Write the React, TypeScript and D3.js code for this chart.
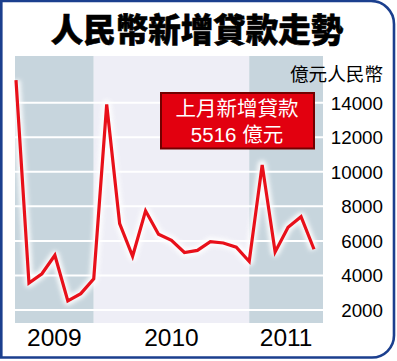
import React, { useRef, useEffect } from 'react';
import * as d3 from 'd3';

// months from 2009-06 to 2011-05, new loans in 億元
const months = [
  '2009-06', '2009-07', '2009-08', '2009-09', '2009-10', '2009-11', '2009-12',
  '2010-01', '2010-02', '2010-03', '2010-04', '2010-05', '2010-06', '2010-07',
  '2010-08', '2010-09', '2010-10', '2010-11', '2010-12',
  '2011-01', '2011-02', '2011-03', '2011-04', '2011-05',
];
const loans = [
  15300, 3560, 4100, 5170, 2530, 2950, 3800,
  13900, 7000, 5110, 7740, 6390, 6030, 5330,
  5450, 5960, 5880, 5640, 4810,
  10400, 5360, 6790, 7400, 5516,
];
const yTicks = [2000, 4000, 6000, 8000, 10000, 12000, 14000];
// year bands: label, first month index, last month index
const years = ['2009', '2010', '2011'];
const yearStart = [0, 6, 18];
const yearEnd = [6, 18, 23];

const W = 397;
const H = 361;

const App = () => {
  const ref = useRef<SVGSVGElement>(null);

  useEffect(() => {
    const svg = d3.select(ref.current);
    svg.selectAll('*').remove();

    const left = 15, right = 323, top = 56, bottom = 323;

    const x = d3.scaleLinear().domain([0, months.length - 1]).range([16, 314]);
    const y = d3.scaleLinear().domain([1250, 16700]).range([bottom, top]);

    // white card with blue frame
    svg.append('path')
      .attr('d', `M1.3,1 H371 A23,23 0 0 1 394,24 V335.5 A22,22 0 0 1 372,357.5 H1.3 Z`)
      .attr('fill', '#fff')
      .attr('stroke', '#1b3f8e')
      .attr('stroke-width', 2.6);

    // title
    svg.append('text')
      .attr('x', 197)
      .attr('y', 42)
      .attr('text-anchor', 'middle')
      .attr('font-family', '"Noto Sans CJK TC", "Noto Sans CJK SC", sans-serif')
      .attr('font-size', 32.5)
      .attr('font-weight', 900)
      .attr('fill', '#000')
      .attr('stroke', '#000')
      .attr('stroke-width', 0.6)
      .text('人民幣新增貸款走勢');

    // year bands
    years.forEach((yr, i) => {
      const x0 = i === 0 ? left : x(yearStart[i]);
      const x1 = i === years.length - 1 ? right : x(yearEnd[i]);
      svg.append('rect')
        .attr('x', x0)
        .attr('y', top)
        .attr('width', x1 - x0)
        .attr('height', bottom - top)
        .attr('fill', i === 1 ? '#eeeef6' : '#c7d5dd');
      svg.append('text')
        .attr('x', (x0 + x1) / 2)
        .attr('y', 346)
        .attr('text-anchor', 'middle')
        .attr('font-family', '"Liberation Sans", Arial, sans-serif')
        .attr('font-size', 24.5)
        .attr('fill', '#000')
        .text(yr);
    });

    // gridlines
    yTicks.forEach(t => {
      svg.append('line')
        .attr('x1', left)
        .attr('x2', right)
        .attr('y1', y(t))
        .attr('y2', y(t))
        .attr('stroke', '#fff')
        .attr('stroke-width', 2);
      svg.append('text')
        .attr('x', 383)
        .attr('y', y(t) + 7)
        .attr('text-anchor', 'end')
        .attr('font-family', '"Liberation Sans", Arial, sans-serif')
        .attr('font-size', 18.8)
        .attr('fill', '#000')
        .text(t);
    });

    // unit label
    svg.append('text')
      .attr('x', 383)
      .attr('y', 81)
      .attr('text-anchor', 'end')
      .attr('font-family', '"Noto Sans CJK TC", sans-serif')
      .attr('font-size', 18.6)
      .attr('fill', '#000')
      .text('億元人民幣');

    // glow for the line
    const defs = svg.append('defs');
    defs.append('filter')
      .attr('id', 'glow')
      .attr('x', '-20%').attr('y', '-20%').attr('width', '140%').attr('height', '140%')
      .append('feGaussianBlur')
      .attr('stdDeviation', 2);

    const line = d3.line<number>()
      .x((d, i) => x(i))
      .y(d => y(d));

    svg.append('path')
      .datum(loans)
      .attr('d', line)
      .attr('fill', 'none')
      .attr('stroke', '#fff')
      .attr('stroke-width', 9)
      .attr('stroke-linejoin', 'round')
      .attr('opacity', 0.9)
      .attr('filter', 'url(#glow)');

    svg.append('path')
      .datum(loans)
      .attr('d', line)
      .attr('fill', 'none')
      .attr('stroke', '#e8101a')
      .attr('stroke-width', 3.2)
      .attr('stroke-linejoin', 'miter');

    // callout box
    svg.append('rect')
      .attr('x', 161)
      .attr('y', 93)
      .attr('width', 153)
      .attr('height', 55.5)
      .attr('fill', '#e2000f')
      .attr('stroke', '#720000')
      .attr('stroke-width', 2);

    const calloutLines = ['上月新增貸款', `${loans[loans.length - 1]} 億元`];
    calloutLines.forEach((s, i) => {
      svg.append('text')
        .attr('x', 237)
        .attr('y', 116 + i * 25.5)
        .attr('text-anchor', 'middle')
        .attr('font-family', '"Liberation Sans", "Noto Sans CJK TC", sans-serif')
        .attr('font-size', 20.5)
        .attr('fill', '#fff')
        .text(s);
    });
  }, []);

  return (
    <svg
      ref={ref}
      width={W}
      height={H}
      style={{ position: 'absolute', left: 0, top: 0 }}
    />
  );
};

export default App;
